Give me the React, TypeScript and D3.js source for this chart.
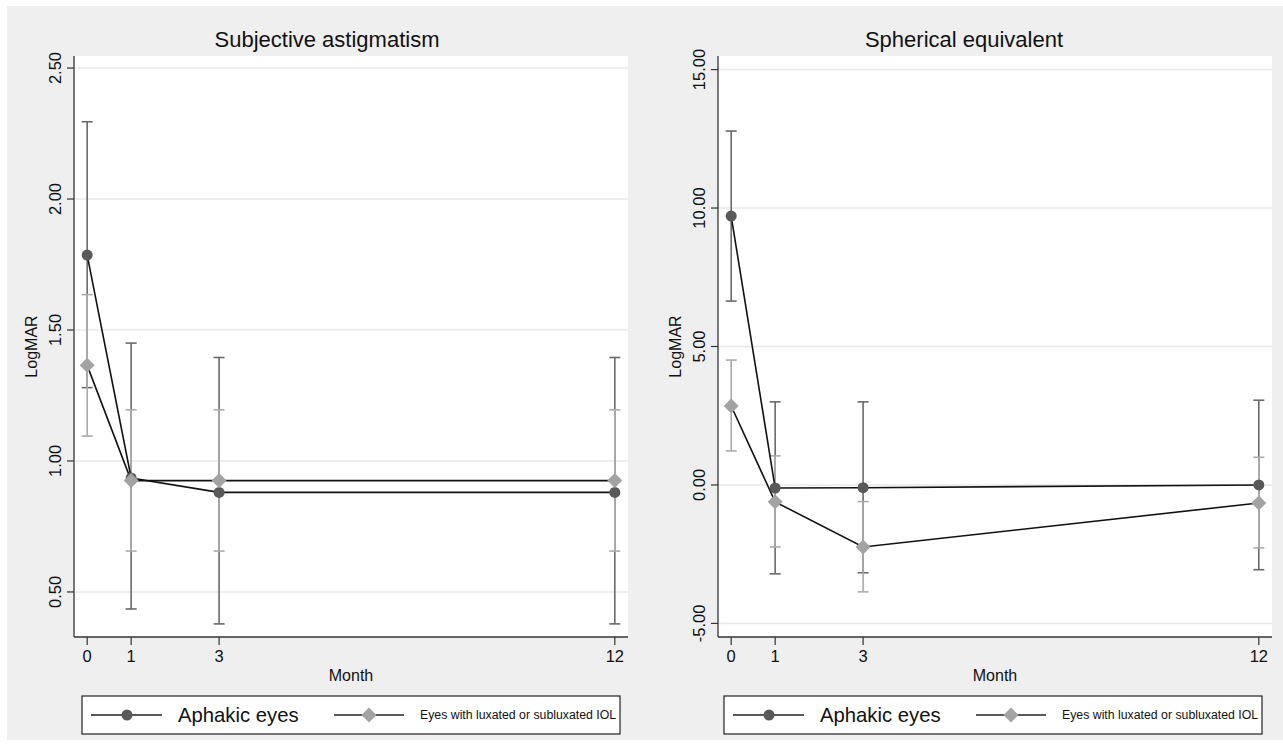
import React from "react";
import * as d3 from "d3";

// months on the x axis
const months = [0, 1, 3, 12];

// Subjective astigmatism
const astigAphakic = [1.786, 0.935, 0.88, 0.88];
const astigAphakicLo = [1.28, 0.435, 0.378, 0.378];
const astigAphakicHi = [2.295, 1.45, 1.395, 1.395];
const astigIOL = [1.365, 0.925, 0.925, 0.925];
const astigIOLLo = [1.095, 0.656, 0.656, 0.656];
const astigIOLHi = [1.635, 1.195, 1.195, 1.195];
const astigTicks = [0.5, 1, 1.5, 2, 2.5];

// Spherical equivalent
const seAphakic = [9.71, -0.11, -0.1, 0.0];
const seAphakicLo = [6.64, -3.21, -3.17, -3.06];
const seAphakicHi = [12.78, 3.0, 3.0, 3.06];
const seIOL = [2.85, -0.61, -2.24, -0.65];
const seIOLLo = [1.23, -2.24, -3.86, -2.27];
const seIOLHi = [4.51, 1.05, -0.6, 1.0];
const seTicks = [-5, 0, 5, 10, 15];

const legendLabels = ["Aphakic eyes", "Eyes with luxated or subluxated IOL"];

const FONT = "'Liberation Sans', Arial, Helvetica, sans-serif";
const DARK = "#595959";
const DARK_BAR = "#6a6a6a";
const LIGHT = "#a3a3a3";
const LIGHT_BAR = "#ababab";

type PanelProps = {
  x0: number;
  title: string;
  titleX: number;
  yDomain: [number, number];
  ticks: number[];
  a: number[];
  aLo: number[];
  aHi: number[];
  b: number[];
  bLo: number[];
  bHi: number[];
  legendX: number;
};

function diamond(cx: number, cy: number, r: number) {
  return `M${cx},${cy - r}L${cx + r},${cy}L${cx},${cy + r}L${cx - r},${cy}Z`;
}

function Panel(p: PanelProps) {
  const top = 56, bottom = 637, w = 554;
  const x = d3.scaleLinear().domain([-0.3, 12.3]).range([p.x0, p.x0 + w]);
  const y = d3.scaleLinear().domain(p.yDomain).range([bottom, top]);
  const line = d3.line<number>().x((d, i) => x(months[i])).y((d) => y(d));
  const cap = 5.5;

  const bars = (lo: number[], hi: number[], color: string) =>
    months.map((m, i) => (
      <g key={i} stroke={color} strokeWidth={1.6}>
        <line x1={x(m)} x2={x(m)} y1={y(lo[i])} y2={y(hi[i])} />
        <line x1={x(m) - cap} x2={x(m) + cap} y1={y(lo[i])} y2={y(lo[i])} />
        <line x1={x(m) - cap} x2={x(m) + cap} y1={y(hi[i])} y2={y(hi[i])} />
      </g>
    ));

  const ly = 715;
  return (
    <g fontFamily={FONT}>
      <rect x={p.x0} y={top} width={w} height={bottom - top} fill="#fff" />
      {p.ticks.map((t) => (
        <g key={t}>
          <line x1={p.x0} x2={p.x0 + w} y1={y(t)} y2={y(t)} stroke="#e8e8e8" strokeWidth={1.5} />
          <line x1={p.x0 - 7} x2={p.x0} y1={y(t)} y2={y(t)} stroke="#333" strokeWidth={1.2} />
          <text
            transform={`translate(${p.x0 - 13},${y(t)}) rotate(-90)`}
            textAnchor="middle"
            fontSize={16.5}
            fill="#111"
          >
            {t.toFixed(2)}
          </text>
        </g>
      ))}
      <text
        transform={`translate(${p.x0 - 37},${(top + bottom) / 2}) rotate(-90)`}
        textAnchor="middle"
        fontSize={16}
        fill="#111"
      >
        LogMAR
      </text>
      <line x1={p.x0} x2={p.x0} y1={top} y2={bottom} stroke="#333" strokeWidth={1.3} />
      <line x1={p.x0} x2={p.x0 + w} y1={bottom} y2={bottom} stroke="#333" strokeWidth={1.3} />
      {months.map((m) => (
        <g key={m}>
          <line x1={x(m)} x2={x(m)} y1={bottom} y2={bottom + 8} stroke="#333" strokeWidth={1.2} />
          <text x={x(m)} y={bottom + 25} textAnchor="middle" fontSize={16.5} fill="#111">
            {m}
          </text>
        </g>
      ))}
      <text x={p.x0 + w / 2} y={bottom + 44} textAnchor="middle" fontSize={16} fill="#111">
        Month
      </text>
      <text x={p.titleX} y={47} textAnchor="middle" fontSize={22} fill="#111">
        {p.title}
      </text>

      {bars(p.aLo, p.aHi, DARK_BAR)}
      {bars(p.bLo, p.bHi, LIGHT_BAR)}
      <path d={line(p.a) || ""} fill="none" stroke="#111" strokeWidth={1.6} />
      <path d={line(p.b) || ""} fill="none" stroke="#111" strokeWidth={1.6} />
      {months.map((m, i) => (
        <circle key={"c" + i} cx={x(m)} cy={y(p.a[i])} r={5.5} fill={DARK} />
      ))}
      {months.map((m, i) => (
        <path key={"d" + i} d={diamond(x(m), y(p.b[i]), 7.5)} fill={LIGHT} />
      ))}

      <rect x={p.legendX} y={696} width={538} height={38} fill="#fff" stroke="#222" strokeWidth={1.2} />
      <line x1={p.legendX + 9} x2={p.legendX + 80} y1={ly} y2={ly} stroke="#222" strokeWidth={1.6} />
      <circle cx={p.legendX + 45} cy={ly} r={5.5} fill={DARK} />
      <text x={p.legendX + 96} y={ly + 7} fontSize={20.3} fill="#111">
        {legendLabels[0]}
      </text>
      <line x1={p.legendX + 252} x2={p.legendX + 322} y1={ly} y2={ly} stroke="#222" strokeWidth={1.6} />
      <path d={diamond(p.legendX + 287, ly, 7.5)} fill={LIGHT} />
      <text x={p.legendX + 338} y={ly + 4} fontSize={12.3} fill="#111">
        {legendLabels[1]}
      </text>
    </g>
  );
}

export default function App() {
  return (
    <svg
      width={1283}
      height={748}
      style={{ position: "absolute", left: 0, top: 0, background: "#fff" }}
    >
      <rect x={7} y={6} width={1276} height={734} fill="#efefef" />
      <Panel
        x0={74}
        title="Subjective astigmatism"
        titleX={327}
        yDomain={[0.328, 2.546]}
        ticks={astigTicks}
        a={astigAphakic}
        aLo={astigAphakicLo}
        aHi={astigAphakicHi}
        b={astigIOL}
        bLo={astigIOLLo}
        bHi={astigIOLHi}
        legendX={82}
      />
      <Panel
        x0={718}
        title="Spherical equivalent"
        titleX={964}
        yDomain={[-5.49, 15.49]}
        ticks={seTicks}
        a={seAphakic}
        aLo={seAphakicLo}
        aHi={seAphakicHi}
        b={seIOL}
        bLo={seIOLLo}
        bHi={seIOLHi}
        legendX={724}
      />
    </svg>
  );
}
